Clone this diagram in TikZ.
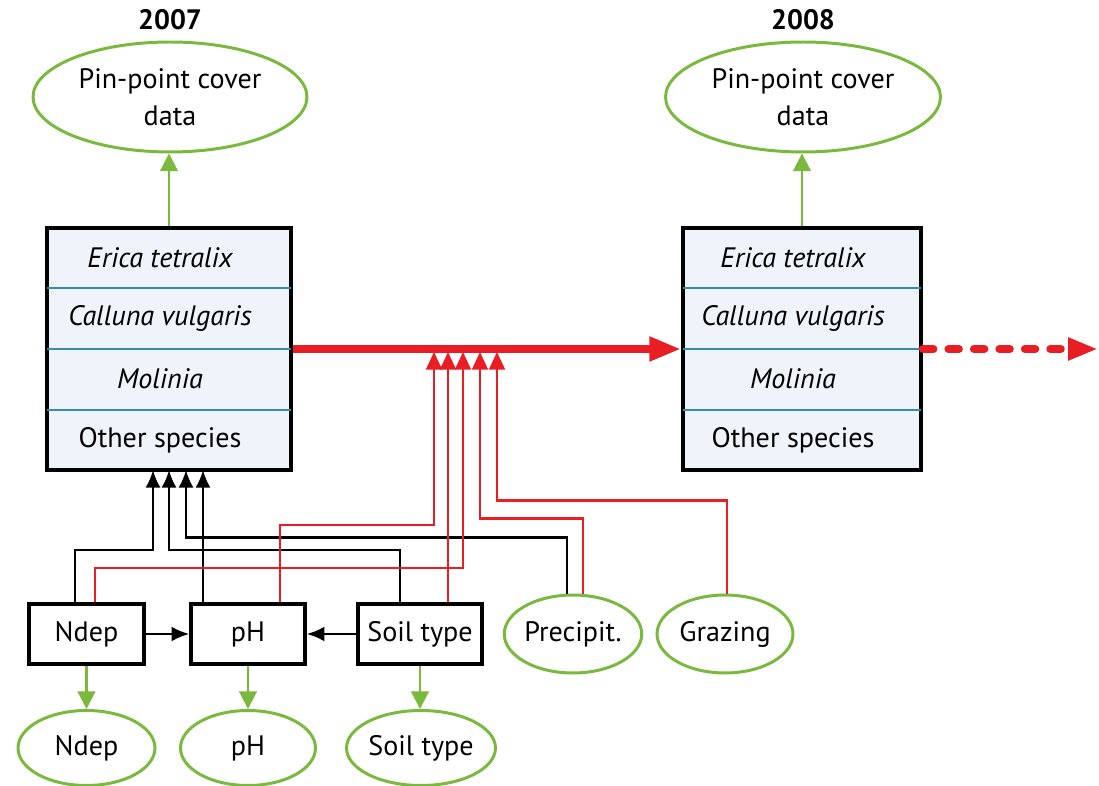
\documentclass[tikz,border=0pt]{standalone}
\usepackage{fontspec}
\setmainfont{PT Sans}
\usetikzlibrary{arrows.meta,calc,shapes.geometric}
\definecolor{pingreen}{RGB}{122,184,62}
\definecolor{flowred}{RGB}{232,30,36}
\definecolor{rowline}{RGB}{52,140,180}
\definecolor{boxfill}{RGB}{238,244,250}
\begin{document}
\begin{tikzpicture}[x=0.02cm,y=-0.02cm,font=\fontsize{16}{21}\selectfont,
  specbox/.style={draw,line width=2.2pt,fill=boxfill,minimum height=4.84cm},
  varbox/.style={draw,line width=2.2pt,fill=white,minimum height=1.2cm},
  greenell/.style={draw=pingreen,ellipse,line width=1.7pt,inner sep=0pt,align=center},
  year/.style={font=\fontsize{16}{21}\selectfont\bfseries},
  greenarr/.style={draw=pingreen,line width=1.2pt,-{Triangle[length=10pt,width=10pt]}},
  blackarr/.style={draw,line width=1.2pt,-{Latex[length=10pt,width=8.5pt]}},
  redarr/.style={draw=flowred,line width=1.2pt,-{Triangle[length=10pt,width=9pt]}},
  divline/.style={draw=rowline,line width=1.2pt}]
\useasboundingbox (0,0) rectangle (1099,786);

\node[year] (y07) at (170,20) {2007};
\node[year] (y08) at (803,20) {2008};
\node[greenell,minimum width=5.48cm,minimum height=2.2cm] (pin07) at (170,97) {Pin-point cover\\data};
\node[greenell,minimum width=5.5cm,minimum height=2.2cm] (pin08) at (803,97) {Pin-point cover\\data};

\node[specbox,minimum width=4.88cm] (box07) at (169,349) {};
\node[specbox,minimum width=4.76cm] (box08) at (802,349) {};
\foreach \b in {box07,box08} {
  \path[divline] ($(\b.west)+(2,-61)$) -- ($(\b.east)+(-2,-61)$);
  \path[divline] ($(\b.west)+(2,0)$) -- ($(\b.east)+(-2,0)$);
  \path[divline] ($(\b.west)+(2,61)$) -- ($(\b.east)+(-2,61)$);
}
\node (e07) at (160,258) {\itshape Erica tetralix};
\node (c07) at (160,318) {\itshape Calluna vulgaris};
\node (m07) at (160,379) {\itshape Molinia};
\node (o07) at (160,440) {Other species};
\node (e08) at (793,258) {\itshape Erica tetralix};
\node (c08) at (793,318) {\itshape Calluna vulgaris};
\node (m08) at (793,379) {\itshape Molinia};
\node (o08) at (793,440) {Other species};

\node[varbox,minimum width=2.3cm] (ndep) at (86.5,634) {Ndep};
\node[varbox,minimum width=2.28cm] (ph) at (248,634) {pH};
\node[varbox,minimum width=2.48cm] (soil) at (420,634) {Soil type};
\node[greenell,minimum width=2.74cm,minimum height=1.56cm] (precip) at (573,634) {Precipit.};
\node[greenell,minimum width=2.72cm,minimum height=1.56cm] (graze) at (725,634) {Grazing};
\node[greenell,minimum width=2.74cm,minimum height=1.5cm] (endep) at (86.5,748) {Ndep};
\node[greenell,minimum width=2.7cm,minimum height=1.5cm] (eph) at (248,748) {pH};
\node[greenell,minimum width=2.76cm,minimum height=1.5cm] (esoil) at (421,748) {Soil type};

\coordinate (b1) at (153,470);
\coordinate (b2) at (169,470);
\coordinate (b3) at (186,470);
\coordinate (b4) at (203,470);
\coordinate (r1) at (434,352);
\coordinate (r2) at (448,352);
\coordinate (r3) at (463,352);
\coordinate (r4) at (480,352);
\coordinate (r5) at (497,352);
\coordinate (next) at (1098,349);

\path[greenarr] (box07.north) -- (box07.north |- pin07.south);
\path[greenarr] (box08.north) -- (box08.north |- pin08.south);
\path[greenarr] (ndep.south) -- (ndep.south |- endep.north);
\path[greenarr] (ph.south) -- (ph.south |- eph.north);
\path[greenarr] (soil.south) -- (soil.south |- esoil.north);

\path[blackarr] (ndep.east) -- (ph.west);
\path[blackarr] (soil.west) -- (ph.east);

\path[blackarr] ($(ndep.north)+(-11.5,0)$) -- ++(0,-52) -| (b1);
\path[blackarr] ($(soil.north)+(-20,0)$) -- ++(0,-52) -| (b2);
\path[blackarr] ($(precip.north)+(-6,0)$) -- ++(0,-56) -| (b3);
\path[blackarr] ($(ph.north)+(-45,0)$) -- (b4);

\path[draw=flowred,line width=4.5pt,-{Triangle[length=18pt,width=13pt]}] (box07.east) -- (box08.west);
\path[draw=flowred,line width=4.5pt,line cap=round,dash pattern=on 6pt off 8.5pt,-{Triangle[length=17pt,width=12pt]}] (box08.east) -- (next);

\path[redarr] ($(ph.north)+(32,0)$) -- ++(0,-77) -| (r1);
\path[redarr] ($(soil.north)+(28,0)$) -- (r2);
\path[redarr] ($(ndep.north)+(8.5,0)$) -- ++(0,-34) -| (r3);
\path[redarr] ($(precip.north)+(10,0)$) -- ++(0,-75) -| (r4);
\path[redarr] ($(graze.north)+(2,0)$) -- ++(0,-93) -| (r5);
\end{tikzpicture}
\end{document}
